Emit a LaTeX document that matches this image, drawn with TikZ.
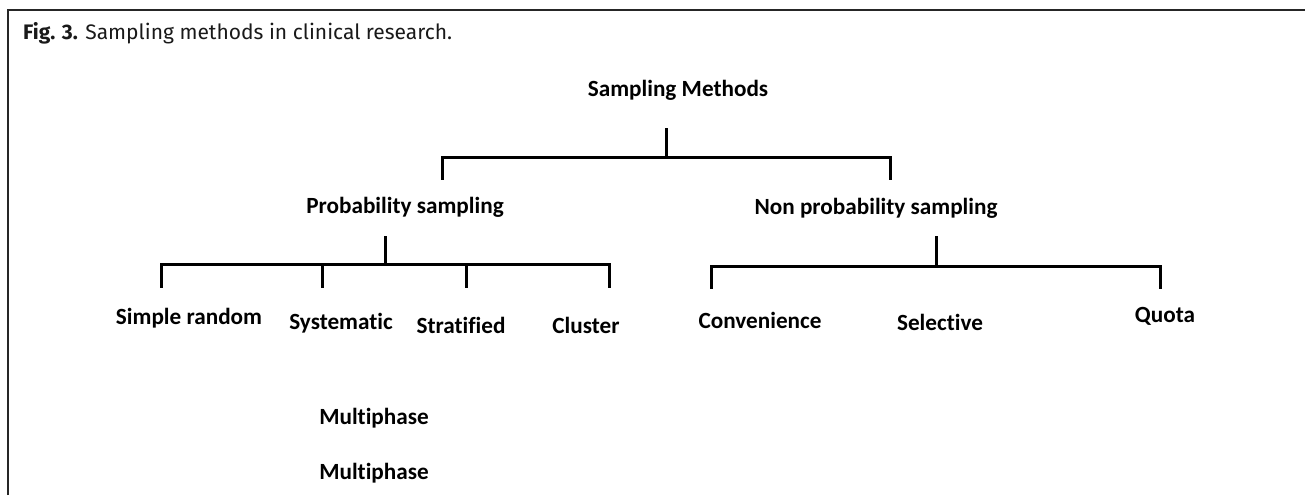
\documentclass[tikz,border=0pt]{standalone}
\usepackage{fontspec}
\setmainfont{Carlito}[Ligatures=NoCommon]
\newfontfamily\titlefont{Fira Sans}
\begin{document}
\begin{tikzpicture}[x=1pt,y=-1pt,
  lbl/.style={font=\fontsize{23.2}{26}\selectfont\bfseries, inner sep=0pt, anchor=center},
  conn/.style={line width=3pt, line cap=rect, black},
  frame/.style={line width=1.8pt, black!85}]
\useasboundingbox (0,0) rectangle (1305,495);
% frame
\coordinate (fa) at (8,495);
\coordinate (fb) at (8,10);
\coordinate (fc) at (1305,10);
\draw[frame] (fa) -- (fb) -- (fc);
% title
\node[anchor=west, inner sep=0pt, font=\titlefont\fontsize{21}{24}\selectfont, black!90] (title) at (23,33)
  {\textbf{Fig. 3.} Sampling methods in clinical research.};
% nodes
\node[lbl] (root) at (678,90) {Sampling Methods};
\node[lbl] (prob) at (405,207) {Probability sampling};
\node[lbl] (nonprob) at (876,208) {Non probability sampling};
\node[lbl] (simple) at (189,318) {Simple random};
\node[lbl] (syst) at (341,323) {Systematic};
\node[lbl] (strat) at (461,325) {Stratified};
\node[lbl] (cluster) at (586,325) {Cluster};
\node[lbl] (conv) at (760,320) {Convenience};
\node[lbl] (sel) at (940,322) {Selective};
\node[lbl] (quota) at (1165,316) {Quota};
\node[lbl] (multa) at (374,418) {Multiphase};
\node[lbl] (multb) at (374,473) {Multiphase};
% top bracket
\coordinate (r0) at (666,129);
\coordinate (r1) at (666,157);
\coordinate (rl) at (442,157);
\coordinate (rr) at (890,157);
\coordinate (rld) at (442,178);
\coordinate (rrd) at (890,178);
\draw[conn] (r0) -- (r1);
\draw[conn] (rld) -- (rl) -- (rr) -- (rrd);
% probability bracket
\coordinate (p0) at (385,237);
\coordinate (p1) at (385,264);
\coordinate (pa) at (161,264);
\coordinate (pb) at (322,264);
\coordinate (pc) at (466,264);
\coordinate (pd) at (609,264);
\coordinate (pad) at (161,286);
\coordinate (pbd) at (322,286);
\coordinate (pcd) at (466,286);
\coordinate (pdd) at (609,286);
\draw[conn] (p0) -- (p1);
\draw[conn] (pad) -- (pa) -- (pd) -- (pdd);
\draw[conn] (pb) -- (pbd);
\draw[conn] (pc) -- (pcd);
% non probability bracket
\coordinate (n0) at (936,237);
\coordinate (n1) at (936,266);
\coordinate (na) at (711,266);
\coordinate (nb) at (1160,266);
\coordinate (nad) at (711,287);
\coordinate (nbd) at (1160,287);
\draw[conn] (n0) -- (n1);
\draw[conn] (nad) -- (na) -- (nb) -- (nbd);
\end{tikzpicture}
\end{document}
